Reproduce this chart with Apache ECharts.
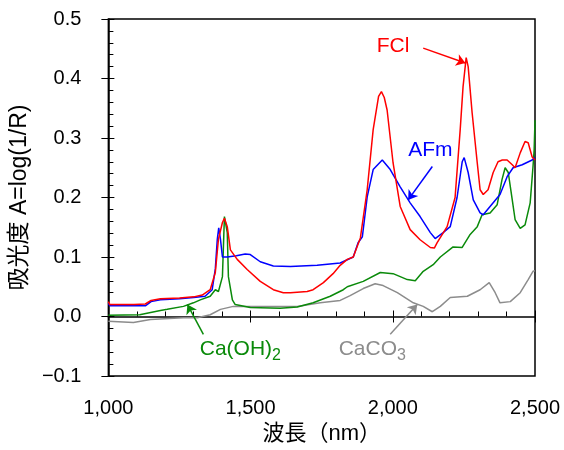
<!DOCTYPE html>
<html>
<head>
<meta charset="utf-8">
<script src="https://cdn.jsdelivr.net/npm/echarts@6/dist/echarts.min.js"></script>
<style>html,body{margin:0;padding:0;background:#fff}#c{width:564px;height:450px}</style>
</head>
<body>
<div id="c"></div>
<script>
const xTicks = [1000, 1500, 2000, 2500];
const yTicks = [-0.1, 0.0, 0.1, 0.2, 0.3, 0.4, 0.5];

const fcl = [[1000,0.025],[1005,0.02],[1090,0.02],[1130,0.021],[1150,0.027],[1183,0.03],[1250,0.031],[1300,0.033],[1330,0.036],[1358,0.045],[1376,0.074],[1387,0.13],[1401,0.158],[1408,0.165],[1418,0.151],[1429,0.112],[1453,0.096],[1488,0.079],[1534,0.059],[1580,0.045],[1615,0.04],[1640,0.04],[1699,0.042],[1720,0.045],[1756,0.057],[1790,0.072],[1815,0.086],[1840,0.096],[1861,0.1],[1886,0.132],[1910,0.213],[1931,0.314],[1950,0.37],[1960,0.378],[1970,0.368],[1980,0.347],[2001,0.258],[2026,0.185],[2061,0.146],[2096,0.129],[2132,0.116],[2146,0.115],[2156,0.124],[2191,0.151],[2219,0.2],[2237,0.314],[2247,0.386],[2258,0.435],[2265,0.42],[2279,0.342],[2297,0.258],[2307,0.213],[2318,0.205],[2335,0.213],[2353,0.242],[2370,0.26],[2385,0.263],[2402,0.263],[2420,0.255],[2430,0.25],[2448,0.275],[2465,0.294],[2476,0.292],[2490,0.268],[2500,0.263]];

const afm = [[1000,0.022],[1005,0.018],[1130,0.018],[1150,0.025],[1183,0.028],[1250,0.03],[1300,0.032],[1340,0.034],[1365,0.045],[1376,0.08],[1383,0.13],[1388,0.149],[1394,0.13],[1401,0.1],[1418,0.1],[1450,0.102],[1481,0.105],[1499,0.104],[1534,0.092],[1580,0.085],[1640,0.084],[1734,0.086],[1815,0.09],[1861,0.1],[1878,0.124],[1893,0.134],[1910,0.201],[1931,0.247],[1963,0.263],[1991,0.247],[2026,0.218],[2061,0.191],[2096,0.168],[2132,0.141],[2149,0.131],[2177,0.141],[2202,0.151],[2226,0.2],[2244,0.26],[2251,0.267],[2265,0.242],[2283,0.196],[2307,0.174],[2318,0.171],[2342,0.185],[2377,0.205],[2402,0.235],[2423,0.25],[2455,0.255],[2490,0.263],[2500,0.267]];

const caoh2 = [[1000,0.002],[1110,0.003],[1140,0.006],[1183,0.01],[1207,0.012],[1264,0.017],[1299,0.023],[1323,0.028],[1358,0.034],[1376,0.045],[1387,0.042],[1401,0.067],[1408,0.168],[1411,0.171],[1418,0.141],[1422,0.067],[1436,0.028],[1446,0.02],[1499,0.015],[1604,0.014],[1664,0.016],[1720,0.023],[1780,0.034],[1826,0.045],[1840,0.05],[1896,0.059],[1956,0.074],[2001,0.072],[2051,0.062],[2079,0.06],[2107,0.076],[2142,0.087],[2167,0.1],[2212,0.117],[2244,0.116],[2272,0.138],[2297,0.151],[2314,0.171],[2342,0.174],[2367,0.188],[2384,0.23],[2395,0.25],[2406,0.242],[2420,0.196],[2430,0.163],[2448,0.148],[2465,0.154],[2483,0.191],[2493,0.252],[2497,0.28],[2500,0.33]];

const caco3 = [[1000,-0.008],[1088,-0.01],[1148,-0.005],[1264,-0.002],[1313,-0.002],[1358,0.003],[1394,0.012],[1439,0.017],[1534,0.017],[1664,0.017],[1745,0.023],[1815,0.027],[1850,0.035],[1896,0.047],[1938,0.055],[1966,0.052],[2016,0.04],[2072,0.023],[2107,0.017],[2139,0.008],[2167,0.017],[2202,0.032],[2262,0.034],[2307,0.045],[2339,0.057],[2360,0.04],[2377,0.023],[2413,0.025],[2448,0.04],[2476,0.062],[2493,0.076],[2500,0.077]];

// annotation anchors in data space: [label pos], [arrow start], [arrow end]
const annFCl = {text:[2001,0.455], from:[2107,0.451], to:[2255,0.426]};
const annAFm = {text:[2132,0.279], from:[2139,0.252], to:[2054,0.196]};
const annCaOH = {text:[1464,-0.055], from:[1334,-0.03], to:[1278,0.02]};
const annCaCO3 = {text:[1928,-0.055], from:[1991,-0.03], to:[2086,0.02]};

const FONT = '"Liberation Sans", Arial, "Noto Sans CJK JP", sans-serif';
const C = {fcl:'#ff0000', afm:'#0000ff', caoh2:'#0a8a0a', caco3:'#8c8c8c'};

function mkSeries(name, data, color, ann, labelText, rich) {
  return {
    name, type:'line', data, showSymbol:false, symbol:'none',
    lineStyle:{color, width:1.5}, itemStyle:{color}, animation:false, z:3,
    markLine:{
      silent:true, animation:false, symbol:['none','arrow'], symbolSize:9,
      label:{show:false},
      lineStyle:{color, width:1.5, type:'solid'},
      itemStyle:{color},
      data:[[{coord:ann.from},{coord:ann.to}]]
    },
    markPoint:{
      silent:true, animation:false, symbol:'circle', symbolSize:0,
      data:[{coord:ann.text}],
      label:{show:true, position:'inside', formatter:labelText, color, fontSize:21, fontFamily:FONT, rich}
    }
  };
}

const chart = echarts.init(document.getElementById('c'), null, {renderer:'canvas'});
const axisCommon = {
  axisLine:{show:true, lineStyle:{color:'#000', width:1.5}},
  splitLine:{show:false}
};
chart.setOption({
  backgroundColor:'#fff',
  animation:false,
  grid:{left:108, right:29, top:19, bottom:73, show:true, borderColor:'#000', borderWidth:1.5, backgroundColor:'transparent'},
  xAxis:[{
    type:'value', min:xTicks[0], max:xTicks[xTicks.length-1], interval:500,
    name:'波長（nm）', nameLocation:'middle', nameGap:47,
    nameTextStyle:{fontSize:22, color:'#000', fontFamily:FONT},
    axisLabel:{fontSize:20, color:'#000', fontFamily:FONT, margin:22,
      formatter:v=>v.toLocaleString('en-US')},
    axisTick:{show:true, inside:false, length:6, lineStyle:{color:'#000'}},
    ...axisCommon
  },{
    type:'value', min:xTicks[0], max:xTicks[xTicks.length-1], interval:500, position:'bottom',
    axisLabel:{show:false}, axisLine:{show:false}, splitLine:{show:false},
    axisTick:{show:true, inside:true, length:6, lineStyle:{color:'#000'}},
    minorTick:{show:true, splitNumber:5, length:5, lineStyle:{color:'#000'}}
  }],
  yAxis:[{
    type:'value', min:yTicks[0], max:yTicks[yTicks.length-1], interval:0.1,
    name:'吸光度 A=log(1/R)', nameLocation:'middle', nameGap:68,
    nameTextStyle:{fontSize:23, color:'#000', fontFamily:FONT},
    axisLabel:{fontSize:20, color:'#000', fontFamily:FONT, margin:27, formatter:v=>v.toFixed(1).replace('-','−')},
    axisTick:{show:true, inside:false, length:7, lineStyle:{color:'#000'}},
    ...axisCommon
  },{
    type:'value', min:yTicks[0], max:yTicks[yTicks.length-1], interval:0.1, position:'left',
    axisLabel:{show:false}, axisLine:{show:false}, splitLine:{show:false},
    axisTick:{show:true, inside:true, length:6, lineStyle:{color:'#000'}},
    minorTick:{show:true, splitNumber:5, length:5, lineStyle:{color:'#000'}}
  }],
  series:[
    mkSeries('CaCO3', caco3, C.caco3, annCaCO3, 'CaCO{s|3}', {s:{fontSize:16, color:C.caco3, fontFamily:FONT, verticalAlign:'bottom', padding:[12,0,0,0]}}),
    mkSeries('Ca(OH)2', caoh2, C.caoh2, annCaOH, 'Ca(OH){s|2}', {s:{fontSize:16, color:C.caoh2, fontFamily:FONT, verticalAlign:'bottom', padding:[12,0,0,0]}}),
    mkSeries('AFm', afm, C.afm, annAFm, 'AFm', {}),
    mkSeries('FCl', fcl, C.fcl, annFCl, 'FCl', {})
  ]
});
</script>
</body>
</html>
